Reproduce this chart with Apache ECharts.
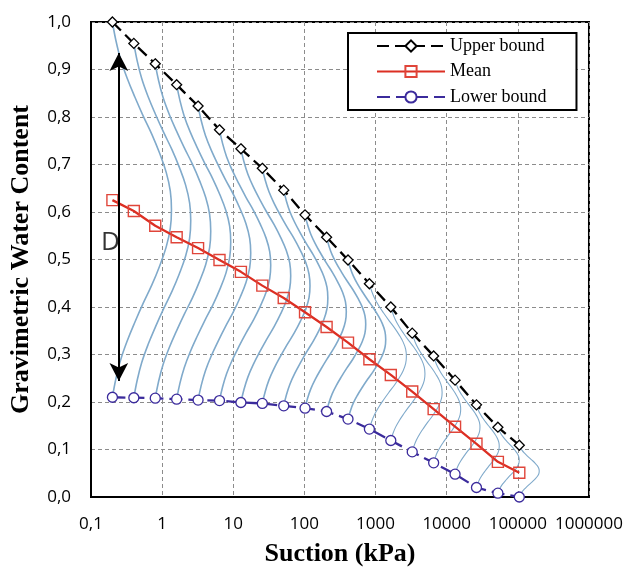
<!DOCTYPE html>
<html>
<head>
<meta charset="utf-8">
<script src="https://cdn.jsdelivr.net/npm/echarts@6/dist/echarts.min.js"></script>
<style>
html,body{margin:0;padding:0;background:#fff;}
#chart{width:626px;height:574px;}
</style>
</head>
<body>
<div id="chart"></div>
<script>
// Suction values (kPa) of the 20 points (each twice the previous)
var suction = [0.2, 0.4, 0.8, 1.6, 3.2, 6.4, 12.8, 25.6, 51.2, 102, 205, 410, 819, 1638, 3277, 6554, 13107, 26214, 52429, 104858];
var upperBound = [1.000, 0.955, 0.912, 0.868, 0.823, 0.773, 0.733, 0.692, 0.646, 0.594, 0.547, 0.499, 0.449, 0.400, 0.345, 0.297, 0.246, 0.194, 0.147, 0.109];
var meanValues = [0.625, 0.602, 0.571, 0.547, 0.524, 0.499, 0.474, 0.445, 0.419, 0.389, 0.358, 0.325, 0.290, 0.257, 0.222, 0.185, 0.148, 0.112, 0.074, 0.051];
var lowerBound = [0.210, 0.209, 0.208, 0.206, 0.204, 0.203, 0.199, 0.197, 0.192, 0.187, 0.180, 0.164, 0.143, 0.119, 0.095, 0.072, 0.048, 0.020, 0.008, 0.000];
// Distribution curves: peak bulge of each curve (in decades of suction) and the curve profile
var curveWidth = [0.83, 0.80, 0.78, 0.76, 0.74, 0.72, 0.70, 0.67, 0.62, 0.58, 0.55, 0.53, 0.52, 0.48, 0.42, 0.38, 0.35, 0.32, 0.30, 0.28];
var profileT = [0, 0.05, 0.1, 0.15, 0.2, 0.25, 0.3, 0.35, 0.4, 0.45, 0.5, 0.55, 0.6, 0.65, 0.7, 0.75, 0.8, 0.85, 0.9, 0.95, 1];
var profileR = [0, 0.06, 0.14, 0.25, 0.38, 0.52, 0.67, 0.80, 0.91, 0.98, 1, 0.98, 0.91, 0.80, 0.67, 0.52, 0.38, 0.25, 0.14, 0.06, 0];
// D arrow and label
var arrowX = 0.246, arrowTop = 0.935, arrowBottom = 0.244;
var dLabel = [0.188, 0.535];

function pairs(xs, ys) { return xs.map(function (x, i) { return [x, ys[i]]; }); }

var series = [];
for (var i = 0; i < suction.length; i++) {
  var pts = [];
  for (var k = 0; k < profileT.length; k++) {
    var y = upperBound[i] - profileT[k] * (upperBound[i] - lowerBound[i]);
    var x = suction[i] * Math.pow(10, curveWidth[i] * profileR[k]);
    pts.push([x, y]);
  }
  series.push({
    type: 'line', name: 'curve' + i, data: pts, smooth: 0.4, symbol: 'none', silent: true,
    lineStyle: { color: '#80aacb', width: i < 12 ? 1.6 : 1.1 }, z: 1
  });
}

series.push({
  type: 'line', name: 'Lower bound', data: pairs(suction, lowerBound),
  symbol: 'circle', symbolSize: 10, showAllSymbol: true,
  lineStyle: { color: '#3b2b9c', width: 2.3, type: [13, 6] },
  itemStyle: { color: '#fff', borderColor: '#3b2b9c', borderWidth: 1.3 }, z: 3
});
series.push({
  type: 'line', name: 'Mean', data: pairs(suction, meanValues),
  symbol: 'rect', symbolSize: 11, showAllSymbol: true,
  lineStyle: { color: '#dc2f23', width: 2.3 },
  itemStyle: { color: 'rgba(255,255,255,0)', borderColor: '#e0453a', borderWidth: 1.4 }, z: 4
});
series.push({
  type: 'line', name: 'Upper bound', data: pairs(suction, upperBound),
  symbol: 'diamond', symbolSize: 10, showAllSymbol: true,
  lineStyle: { color: '#000', width: 2.3, type: [12, 6] },
  itemStyle: { color: '#fff', borderColor: '#000', borderWidth: 1.3 }, z: 5
});
series.push({
  type: 'scatter', name: 'D', data: [dLabel], symbolSize: 0, silent: true,
  label: { show: true, formatter: 'D', position: 'inside', color: '#000', fontSize: 26, fontFamily: 'Open Sans' },
  markLine: {
    silent: true, symbol: ['arrow', 'arrow'], symbolSize: [14, 18],
    label: { show: false },
    lineStyle: { color: '#000', width: 2, type: 'solid' },
    data: [[{ coord: [arrowX, arrowTop] }, { coord: [arrowX, arrowBottom] }]]
  }, z: 6
});

var chart = echarts.init(document.getElementById('chart'), null, { renderer: 'canvas' });
chart.setOption({
  animation: false,
  backgroundColor: '#fff',
  grid: { left: 91, right: 33, top: 22, bottom: 77, show: true, borderColor: '#000', borderWidth: 2, backgroundColor: 'transparent' },
  legend: {
    data: ['Upper bound', 'Mean', 'Lower bound'],
    orient: 'vertical', left: 348, top: 33,
    itemWidth: 68, itemHeight: 14, itemGap: 7.5,
    padding: [4, 30, 4, 28],
    borderColor: '#000', borderWidth: 2, backgroundColor: '#fff',
    textStyle: { fontFamily: 'Liberation Serif', fontSize: 18, color: '#000', lineHeight: 18 }
  },
  xAxis: {
    type: 'log', logBase: 10, min: 0.1, max: 1000000,
    name: 'Suction (kPa)', nameLocation: 'middle', nameGap: 44,
    nameTextStyle: { fontFamily: 'Liberation Serif', fontWeight: 'bold', fontSize: 26, color: '#000' },
    axisLine: { show: true, lineStyle: { color: '#000', width: 2 } },
    axisTick: { show: false },
    axisLabel: {
      color: '#000', fontFamily: 'Open Sans', fontSize: 17, margin: 19, showMaxLabel: true,
      formatter: function (v) { return v < 1 ? '0,1' : String(Math.round(v)); }
    },
    splitLine: { show: true, lineStyle: { color: '#8c8c8c', type: [4, 3], width: 1 } }
  },
  yAxis: {
    type: 'value', min: 0, max: 1, interval: 0.1,
    name: 'Gravimetric Water Content', nameLocation: 'middle', nameGap: 57,
    nameTextStyle: { fontFamily: 'Liberation Serif', fontWeight: 'bold', fontSize: 26, color: '#000' },
    axisLine: { show: true, lineStyle: { color: '#000', width: 2 } },
    axisTick: { show: false },
    axisLabel: {
      color: '#000', fontFamily: 'Open Sans', fontSize: 17, margin: 20,
      formatter: function (v) { return v.toFixed(1).replace('.', ','); }
    },
    splitLine: { show: true, lineStyle: { color: '#8c8c8c', type: [4, 3], width: 1 } }
  },
  series: series
});
</script>
</body>
</html>
